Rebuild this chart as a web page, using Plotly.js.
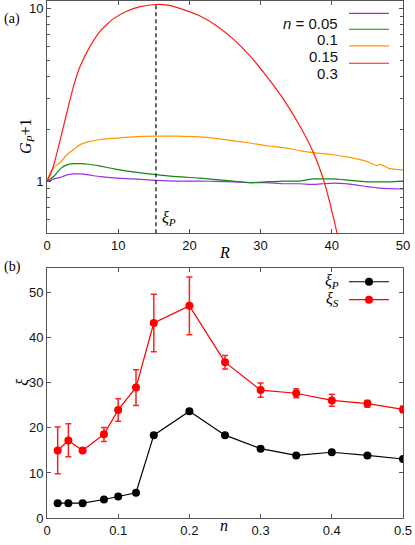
<!DOCTYPE html>
<html>
<head>
<meta charset="utf-8">
<script src="https://cdn.plot.ly/plotly-3.0.1.min.js"></script>
<style>
  html, body { margin: 0; padding: 0; background: #fff; }
  #chart { width: 415px; height: 545px; }
</style>
</head>
<body>
<div id="chart"></div>
<script>
// Panel (a): G_P + 1 against R
const R = [0, 0.5, 1, 1.9, 2.8, 3.7, 4.7, 5.6, 7.5, 9.8, 12.1, 15.3, 18.2, 21.5, 23.8, 26.2, 28.5, 30.8, 33.2, 35.5, 37.4, 38.8, 40.2, 42.5, 44.9, 46.3, 46.8, 48.1, 50];
const g005 = [1, 1.01, 1.03, 1.05, 1.085, 1.10, 1.10, 1.09, 1.06, 1.04, 1.03, 1.01, 1.00, 1.00, 0.995, 0.99, 0.98, 0.98, 0.965, 0.965, 0.956, 0.965, 0.974, 0.96, 0.93, 0.915, 0.91, 0.905, 0.90];
const g01 = [1, 1.03, 1.07, 1.18, 1.24, 1.26, 1.26, 1.255, 1.22, 1.17, 1.13, 1.09, 1.06, 1.04, 1.02, 1.00, 0.98, 0.99, 1.00, 1.00, 1.03, 1.03, 1.03, 1.01, 0.99, 0.99, 0.99, 0.99, 1.00];
const g015 = [1, 1.13, 1.2, 1.29, 1.42, 1.52, 1.63, 1.68, 1.74, 1.77, 1.80, 1.82, 1.82, 1.80, 1.76, 1.71, 1.66, 1.60, 1.56, 1.50, 1.46, 1.44, 1.42, 1.37, 1.30, 1.23, 1.25, 1.18, 1.16];
// n = 0.3 falls out of range near R = 41, so it has its own grid
const R03 = [0, 0.5, 0.93, 1.64, 2.34, 2.9, 3.74, 4.67, 6.07, 7.5, 9.35, 11.2, 13.1, 15.3, 17, 18.2, 21.5, 23.8, 26.2, 28.5, 30.8, 33.2, 35.5, 37.4, 38.8, 39.7, 40.7, 41.2];
const g03 = [1, 1.1, 1.23, 1.6, 2.09, 2.6, 3.55, 4.63, 6.03, 7.4, 8.7, 9.6, 10.2, 10.5, 10.4, 10.1, 9.0, 7.9, 6.6, 5.3, 4.06, 2.98, 2.09, 1.47, 1.03, 0.757, 0.508, 0.4];
const xiPmark = 15.3;

// Panel (b): correlation lengths against n
const nVals = [0.015, 0.03, 0.05, 0.08, 0.1, 0.125, 0.15, 0.2, 0.25, 0.3, 0.35, 0.4, 0.45, 0.5];
const xiP = [3.3, 3.3, 3.3, 4.1, 4.8, 5.6, 18.4, 23.7, 18.4, 15.4, 13.9, 14.6, 13.9, 13.1];
const xiS = [15.0, 17.2, 15.0, 18.6, 24.0, 29.0, 43.3, 47.1, 34.6, 28.4, 27.7, 26.1, 25.4, 24.1];
const xiSup = [20.2, 20.9, 15.4, 20.1, 26.5, 32.9, 49.7, 53.5, 36.1, 30.0, 28.7, 27.5, 26.1, 24.8];
const xiSlo = [9.8, 13.6, 14.6, 17.0, 21.5, 25.0, 36.9, 40.7, 33.1, 26.8, 26.7, 24.8, 24.6, 23.4];

const nLabels = ['<i>n</i> = 0.05', '0.1', '0.15', '0.3'];
const colors = ['#9b30e0', '#118811', '#ff9900', '#ff1a1a'];

// pixel helpers for legend / label placement (plot area 47..403 x, 1..518.5 y)
const px = x => (x - 47) / 356;
const py = y => (518.5 - y) / 517.5;

const seriesA = [[R, g005], [R, g01], [R, g015], [R03, g03]];
const traces = seriesA.map((s, i) => ({
    x: s[0], y: s[1],
    xaxis: 'x', yaxis: 'y',
    type: 'scatter', mode: 'lines',
    line: {color: colors[i], width: 1.2, shape: 'spline', smoothing: 0.5}
}));

traces.push({
    x: [xiPmark, xiPmark], y: [0.5, 10.45],
    xaxis: 'x', yaxis: 'y',
    type: 'scatter', mode: 'lines',
    line: {color: '#000', width: 1.2, dash: '4px,3px'}
});

traces.push({
    x: nVals, y: xiP,
    xaxis: 'x2', yaxis: 'y2',
    type: 'scatter', mode: 'lines+markers',
    line: {color: '#000', width: 1.2},
    marker: {color: '#000', size: 8}
});

traces.push({
    x: nVals, y: xiS,
    xaxis: 'x2', yaxis: 'y2',
    type: 'scatter', mode: 'lines+markers',
    line: {color: '#ff0000', width: 1.2},
    marker: {color: '#ff0000', size: 8},
    error_y: {
        type: 'data', symmetric: false,
        array: xiSup.map((u, i) => u - xiS[i]),
        arrayminus: xiS.map((v, i) => v - xiSlo[i]),
        color: '#ff2020', thickness: 1.5, width: 3
    }
});

const sansFam = 'Liberation Sans, Arial, sans-serif';
const serifFam = 'Liberation Serif, Times New Roman, serif';
const tickFont = {family: sansFam, size: 13, color: '#111'};
const serif = {family: serifFam, size: 16, color: '#000'};

const axisBase = {
    showgrid: false, zeroline: false,
    showline: true, linecolor: '#555', linewidth: 1, mirror: 'ticks',
    ticks: 'inside', ticklen: 4, tickcolor: '#555',
    tickfont: tickFont
};

const annotations = [
    {text: '(a)', x: px(2), xref: 'paper', xanchor: 'left', y: py(9), yref: 'paper', showarrow: false, font: {family: serifFam, size: 14, color: '#000'}},
    {text: '(b)', x: px(2), xref: 'paper', xanchor: 'left', y: py(267), yref: 'paper', showarrow: false, font: {family: serifFam, size: 14, color: '#000'}},
    {text: '<i>ξ</i><sub><i>P</i></sub>', x: px(160), xref: 'paper', xanchor: 'left', y: py(219), yref: 'paper', showarrow: false, font: serif},
    {text: '<i>G</i><sub><i>P</i></sub>+1', x: px(15), xref: 'paper', y: py(117), yref: 'paper', textangle: -90, showarrow: false, font: serif},
    {text: '<i>ξ</i>', x: px(12), xref: 'paper', y: py(388), yref: 'paper', textangle: -90, showarrow: false, font: serif},
    {text: '<i>R</i>', x: px(224), xref: 'paper', y: py(253), yref: 'paper', showarrow: false, font: serif},
    {text: '<i>n</i>', x: px(224), xref: 'paper', y: py(537), yref: 'paper', showarrow: false, font: serif}
];
const shapes = [];

const rowsA = [13.3, 29.3, 46, 63.3];
nLabels.forEach((t, i) => {
    annotations.push({text: t, x: px(340), xref: 'paper', xanchor: 'right', y: py(rowsA[i]), yref: 'paper', showarrow: false,
        font: {family: sansFam, size: 15, color: '#111'}});
    shapes.push({type: 'line', xref: 'paper', yref: 'paper', x0: px(349), x1: px(389), y0: py(rowsA[i]), y1: py(rowsA[i]),
        line: {color: colors[i], width: 1.2}});
});

const legB = [{t: '<i>ξ</i><sub><i>P</i></sub>', c: '#000', y: 282}, {t: '<i>ξ</i><sub><i>S</i></sub>', c: '#ff0000', y: 300}];
legB.forEach(l => {
    annotations.push({text: l.t, x: px(341), xref: 'paper', xanchor: 'right', y: py(l.y), yref: 'paper', showarrow: false,
        font: {family: serifFam, size: 16, color: '#000'}});
    shapes.push({type: 'line', xref: 'paper', yref: 'paper', x0: px(349), x1: px(389), y0: py(l.y), y1: py(l.y),
        line: {color: l.c, width: 1.2}});
    shapes.push({type: 'circle', xref: 'paper', yref: 'paper', xsizemode: 'pixel', ysizemode: 'pixel',
        xanchor: px(369), yanchor: py(l.y), x0: -4, x1: 4, y0: -4, y1: 4,
        fillcolor: l.c, line: {width: 0}});
});

const layout = {
    width: 415, height: 545,
    margin: {l: 47, r: 12, t: 1, b: 26.5},
    paper_bgcolor: '#fff', plot_bgcolor: '#fff',
    showlegend: false,
    xaxis: Object.assign({}, axisBase, {
        domain: [0, 1], anchor: 'y', range: [0, 50], dtick: 10
    }),
    yaxis: Object.assign({}, axisBase, {
        domain: [0.551, 1], anchor: 'x', type: 'log',
        range: [Math.log10(0.5), Math.log10(11)],
        tickmode: 'array', tickvals: [1, 10], ticktext: ['1', '10'],
        minor: {tickmode: 'array', tickvals: [0.6, 0.7, 0.8, 0.9, 2, 3, 4, 5, 6, 7, 8, 9],
                ticks: 'inside', ticklen: 3, tickcolor: '#555', showgrid: false}
    }),
    xaxis2: Object.assign({}, axisBase, {
        domain: [0, 1], anchor: 'y2', range: [0, 0.5], dtick: 0.1
    }),
    yaxis2: Object.assign({}, axisBase, {
        domain: [0, 0.4835], anchor: 'x2', range: [0, 55.5], dtick: 10
    }),
    annotations: annotations,
    shapes: shapes
};

Plotly.newPlot('chart', traces, layout, {staticPlot: true});
</script>
</body>
</html>
